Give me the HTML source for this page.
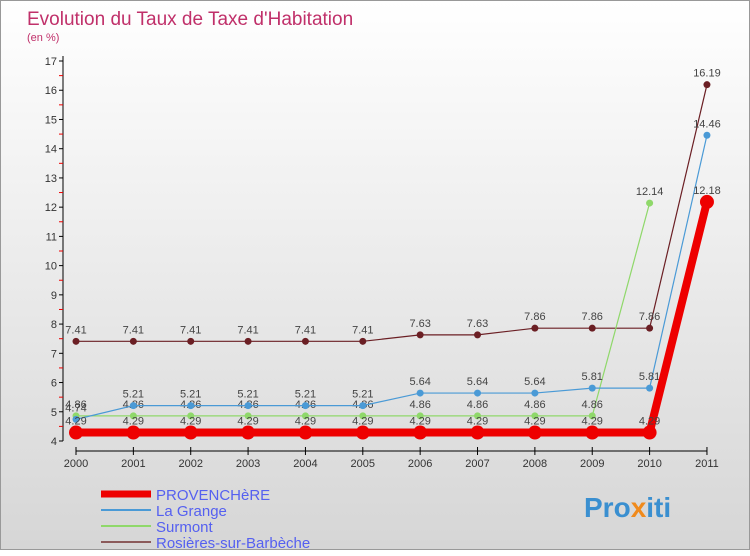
<!DOCTYPE html>
<html><head><meta charset="utf-8"><style>
body{margin:0;width:750px;height:550px;overflow:hidden;font-family:"Liberation Sans",sans-serif}
#c{position:absolute;left:0;top:0;width:748px;height:548px;border:1px solid #999;background:linear-gradient(#fff,#d6d6d6)}
</style></head><body>
<div id="c">
<svg id="s" width="750" height="550" xmlns="http://www.w3.org/2000/svg">
<text x="26" y="24" font-size="19" fill="#c0306a">Evolution du Taux de Taxe d'Habitation</text>
<text x="26" y="40" font-size="11" fill="#c0306a">(en %)</text>
<text x="583" y="516" font-size="28" font-weight="bold" fill="#3a8fd0">Pro<tspan fill="#f08a1c">x</tspan>iti</text>
</svg></div>
<script>
const years=["2000","2001","2002","2003","2004","2005","2006","2007","2008","2009","2010","2011"];
const yTicks=[4,5,6,7,8,9,10,11,12,13,14,15,16,17];
const provenchere=[4.29,4.29,4.29,4.29,4.29,4.29,4.29,4.29,4.29,4.29,4.29,12.18];
const laGrange=[4.74,5.21,5.21,5.21,5.21,5.21,5.64,5.64,5.64,5.81,5.81,14.46];
const surmont=[4.86,4.86,4.86,4.86,4.86,4.86,4.86,4.86,4.86,4.86,12.14,null];
const rosieres=[7.41,7.41,7.41,7.41,7.41,7.41,7.63,7.63,7.86,7.86,7.86,16.19];
const names=["PROVENCHèRE","La Grange","Surmont","Rosières-sur-Barbèche"];
const s=document.getElementById('s');const NS="http://www.w3.org/2000/svg";
const X=i=>75+i*57.36, Y=v=>440-(v-4)*29.23;
function mk(t,a,p){const e=document.createElementNS(NS,t);for(const k in a)e.setAttribute(k,a[k]);(p||s).appendChild(e);return e;}
let ax=mk('line',{x1:62,y1:55,x2:62,y2:440,stroke:'#000'});


yTicks.forEach(v=>{mk('line',{x1:58,x2:62,y1:Y(v),y2:Y(v),stroke:'#000'});
if(v<17)mk('line',{x1:58,x2:62,y1:Y(v+.5),y2:Y(v+.5),stroke:'#e00'});
const t=mk('text',{x:56,y:Y(v)+4,'font-size':11,fill:'#333','text-anchor':'end'});t.textContent=v;

});
let xa=mk('line',{x1:75,y1:450,x2:X(11),y2:450,stroke:'#000'});


years.forEach((y,i)=>{mk('line',{x1:X(i),x2:X(i),y1:446,y2:454,stroke:'#000'});
const t=mk('text',{x:X(i),y:466,'font-size':11,fill:'#333','text-anchor':'middle'});t.textContent=y;

});
const series=[[rosieres,'#6b1f24',1.2,3.5],[surmont,'#8fd86a',1.2,3.5],[laGrange,'#4a9ad6',1.2,3.5],[provenchere,'#e00',8,7]];
const dn=['rosieres-series','surmont-series','la-grange-series','provenchere-series'];
series.forEach(([d,c,w,r],k)=>{const g=mk('g',{});


const pts=d.map((v,i)=>v==null?null:X(i)+','+Y(v)).filter(p=>p).join(' ');
mk('polyline',{points:pts,fill:'none',stroke:c,'stroke-width':w},g);
d.forEach((v,i)=>{if(v==null)return;mk('circle',{cx:X(i),cy:Y(v),r:r,fill:c},g);
const t=mk('text',{x:X(i),y:Y(v)-8,'font-size':11,fill:'#444','text-anchor':'middle'},g);t.textContent=v;});});
const lc=['#e00','#4a9ad6','#8fd86a','#8b5a5a'],lw=[7,2,2,2];
names.forEach((n,i)=>{const y=493+i*16;
mk('line',{x1:100,x2:150,y1:y,y2:y,stroke:lc[i],'stroke-width':lw[i]});
const t=mk('text',{x:155,y:y+6,'font-size':15,fill:'#5560f0'});t.textContent=n;

});
</script></body></html>
